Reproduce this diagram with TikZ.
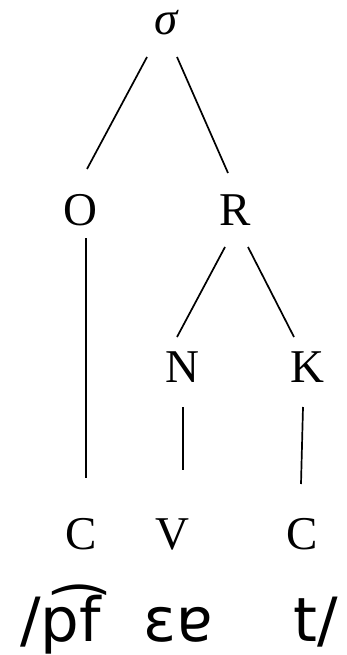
\documentclass[tikz,border=0pt]{standalone}
\usepackage{fontspec}
\setmainfont{Liberation Serif}
\newfontfamily\ipafont{DejaVu Sans}
\usetikzlibrary{calc}
\begin{document}
\begin{tikzpicture}[x=1pt,y=-1pt,
  lab/.style={anchor=base,inner sep=0pt,font=\fontsize{47}{50}\selectfont},
  ipa/.style={anchor=base west,inner sep=0pt,font=\ipafont\fontsize{61}{66}\selectfont},
  edge/.style={line width=1.7pt}]
\useasboundingbox (0,0) rectangle (347,655);
\node[lab] (s) at (167,35) {\textit{σ}};
\node[lab] (o) at (80,225) {O};
\node[lab] (r) at (235,225) {R};
\node[lab] (n) at (182,382) {N};
\node[lab] (k) at (307,382) {K};
\node[lab] (c1) at (81,549) {C};
\node[lab] (v) at (172,549) {V};
\node[lab] (c2) at (302,549) {C};
\node[ipa] (t1) at (20,641) {/p͡f};
\node[ipa] (t2) at (143,641) {ɛɐ};
\node[ipa] (t3) at (293,641) {t/};
\draw[edge] ($(s.base)+(-20,22)$) -- ($(o.base)+(7,-56)$);
\draw[edge] ($(s.base)+(10,22)$) -- ($(r.base)+(-7,-52)$);
\draw[edge] ($(o.base)+(6,13)$) -- ($(c1.base)+(5,-71)$);
\draw[edge] ($(r.base)+(-10,22)$) -- ($(n.base)+(-5,-45)$);
\draw[edge] ($(r.base)+(13,22)$) -- ($(k.base)+(-13,-45)$);
\draw[edge] ($(n.base)+(1,25)$) -- ($(v.base)+(11,-79)$);
\draw[edge] ($(k.base)+(-4,25)$) -- ($(c2.base)+(-1,-65)$);
\end{tikzpicture}
\end{document}
